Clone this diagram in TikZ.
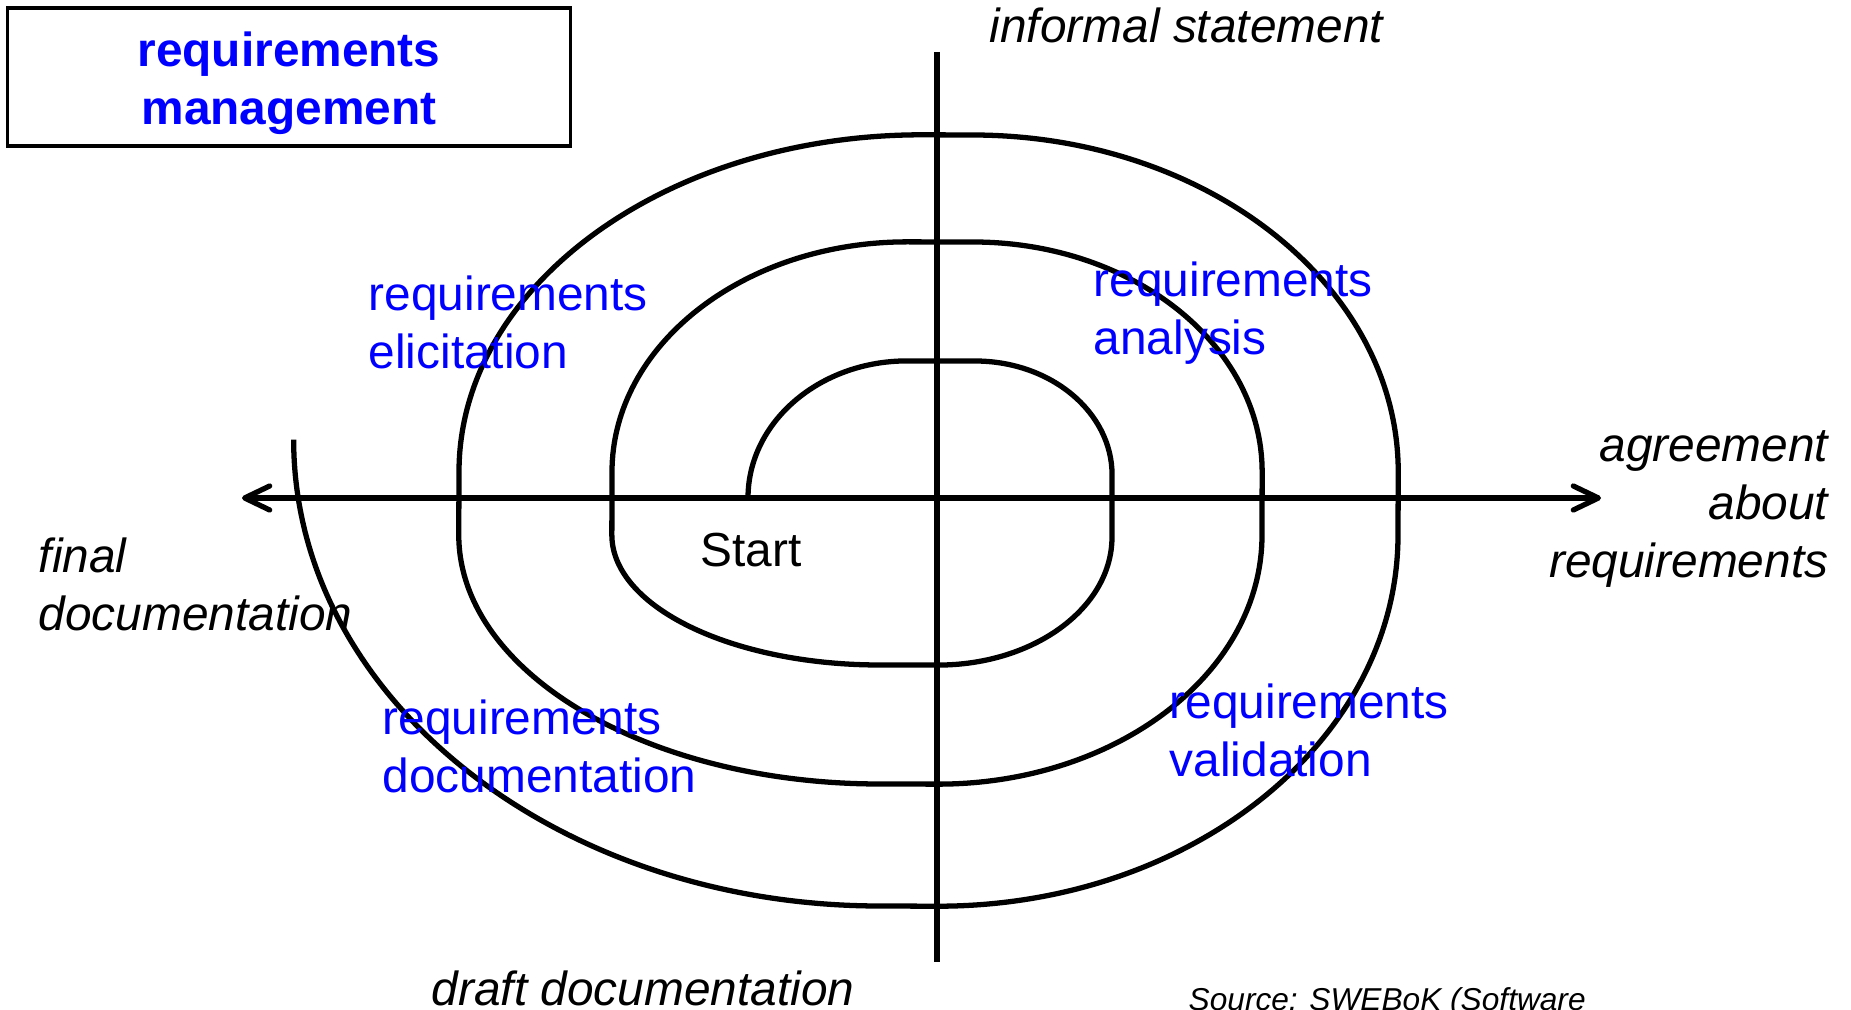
\documentclass[tikz,border=0pt]{standalone}
\usepackage{fontspec}
\setmainfont{Liberation Sans}
\usetikzlibrary{arrows.meta}
\definecolor{reqblue}{RGB}{0,0,255}
\tikzset{
  lbl/.style={font=\fontsize{13.6}{16.5}\selectfont, inner sep=0pt, align=left},
  blu/.style={lbl, text=reqblue},
  ital/.style={lbl, font=\fontsize{13.6}{16.5}\selectfont\itshape},
  axisline/.style={line width=1.5pt},
  spiral/.style={line width=1.5pt, line join=round},
  barb/.style={{Straight Barb[length=2.5mm,width=2.4mm,round]}-{Straight Barb[length=2.5mm,width=2.4mm,round]}}
}
\begin{document}
\begin{tikzpicture}[x=0.01cm,y=0.01cm]
\clip (0,0) rectangle (1851,-1010);
\fill[white] (0,0) rectangle (1851,-1010);

% title box
\node[draw, line width=0.9pt, minimum width=5.62cm, minimum height=1.38cm, inner sep=0pt]
  (title) at (289,-77) {};
\node[inner sep=0pt, align=center, text=reqblue, font=\fontsize{13.6}{16.5}\selectfont\bfseries]
  (titletext) at (289,-83) {requirements\\management};

% axes
\coordinate (W) at (242,-498);
\coordinate (E) at (1601,-498);
\coordinate (N) at (937,-52);
\coordinate (S) at (937,-962);
\draw[axisline] (N) -- (S);
\draw[axisline, barb] (W) -- (E);

% spiral
\draw[spiral] (748,-498)
  arc[start angle=180, end angle=90, x radius=1.59cm, y radius=1.37cm]
  -- (975,-361)
  arc[start angle=90, end angle=0, x radius=1.37cm, y radius=1.14cm]
  -- (1112,-537)
  arc[start angle=0, end angle=-90, x radius=1.74cm, y radius=1.28cm]
  -- (880,-665)
  arc[start angle=-90, end angle=-180, x radius=2.68cm, y radius=1.30cm]
  -- (612,-472)
  arc[start angle=180, end angle=90, x radius=2.95cm, y radius=2.30cm]
  -- (973,-242)
  arc[start angle=90, end angle=0, x radius=2.89cm, y radius=2.30cm]
  -- (1262,-535)
  arc[start angle=0, end angle=-90, x radius=3.24cm, y radius=2.49cm]
  -- (880,-784)
  arc[start angle=-90, end angle=-180, x radius=4.21cm, y radius=2.49cm]
  -- (459,-472)
  arc[start angle=180, end angle=90, x radius=4.63cm, y radius=3.37cm]
  -- (972,-135)
  arc[start angle=90, end angle=0, x radius=4.26cm, y radius=3.37cm]
  -- (1398,-535)
  arc[start angle=0, end angle=-90, x radius=4.60cm, y radius=3.71cm]
  -- (880,-906)
  arc[start angle=-90, end angle=-180, x radius=5.86cm, y radius=4.66cm];

% labels (base anchor = baseline of the last line)
\node[ital, anchor=base west] (informal) at (989,-43) {informal statement};
\node[blu, anchor=base west] (elic) at (368,-369) {requirements\\elicitation};
\node[blu, anchor=base west] (anal) at (1093,-355) {requirements\\analysis};
\node[blu, anchor=base west] (docu) at (382,-793) {requirements\\documentation};
\node[blu, anchor=base west] (vali) at (1169,-777) {requirements\\validation};
\node[ital, anchor=base west] (final) at (38,-631) {final\\documentation};
\node[ital, align=right, anchor=base east] (agree) at (1829,-578) {agreement\\about\\requirements};
\node[lbl, anchor=base] (start) at (751,-567) {Start};
\node[ital, anchor=base] (draft) at (643,-1005) {draft documentation};
\node[inner sep=0pt, anchor=base west, font=\fontsize{9}{11}\selectfont\itshape] (source) at (1188,-1011) {Source: SWEBoK (Software};
\end{tikzpicture}
\end{document}
